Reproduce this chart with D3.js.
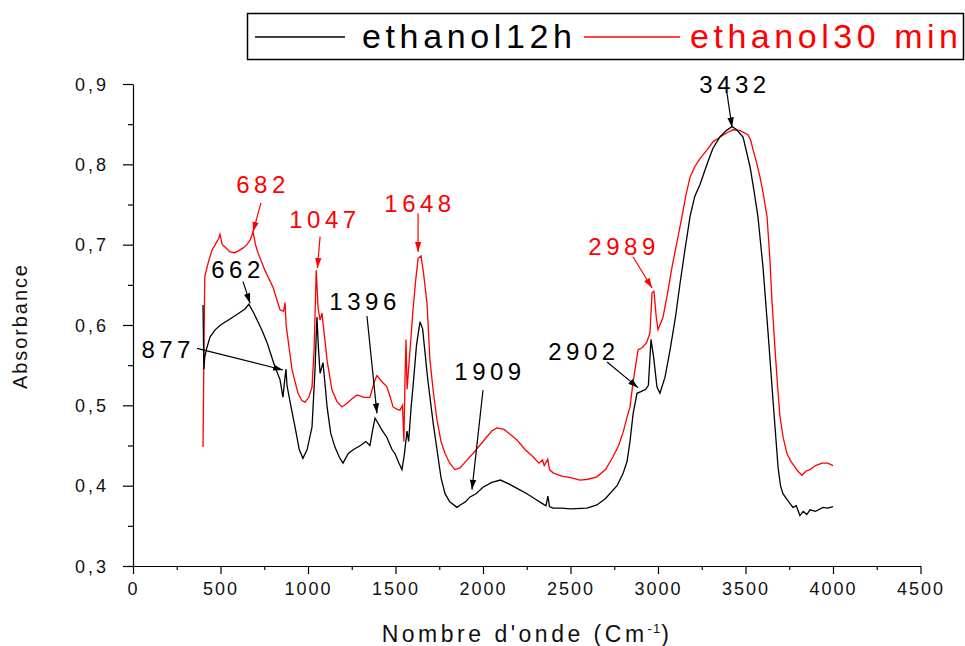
<!DOCTYPE html>
<html>
<head>
<meta charset="utf-8">
<script src="https://cdn.jsdelivr.net/npm/d3@7"></script>
<style>
  html, body { margin: 0; padding: 0; background: #fff; }
  svg { display: block; }
  text { font-family: "Liberation Sans", Arial, sans-serif; }
</style>
</head>
<body>
<svg id="chart" width="965" height="646"></svg>
<script>
// FTIR spectra: absorbance vs wavenumber (cm-1)
const seriesNames = ["ethanol12h", "ethanol30 min"];
const seriesColors = ["#000000", "#ff0000"];

const wn12h = [400,405,410,420,440,469,500,543,600,640,662,690,714,740,766,790,811,840,857,866,874,880,897,926,950,971,995,1023,1040,1051,1060,1069,1086,1100,1109,1130,1154,1180,1200,1230,1260,1300,1330,1354,1370,1383,1400,1420,1451,1480,1497,1520,1537,1550,1566,1575,1590,1600,1620,1640,1655,1669,1683,1697,1717,1737,1760,1783,1810,1851,1870,1900,1926,1960,2000,2050,2100,2150,2200,2251,2300,2337,2360,2371,2380,2400,2450,2500,2594,2651,2700,2766,2800,2823,2840,2858,2880,2902,2930,2945,2960,2975,2994,3011,3040,3069,3100,3126,3155,3183,3210,3240,3280,3314,3354,3390,3423,3450,3486,3526,3550,3571,3600,3629,3657,3686,3700,3714,3740,3771,3790,3811,3830,3850,3869,3900,3943,3970,4000];
const abs12h = [0.625,0.545,0.56,0.57,0.585,0.594,0.600,0.606,0.614,0.620,0.626,0.615,0.604,0.592,0.578,0.562,0.548,0.532,0.510,0.530,0.545,0.525,0.505,0.473,0.445,0.434,0.445,0.473,0.544,0.610,0.570,0.540,0.553,0.520,0.498,0.465,0.448,0.435,0.428,0.440,0.445,0.450,0.455,0.450,0.470,0.484,0.478,0.470,0.460,0.445,0.440,0.428,0.420,0.438,0.468,0.455,0.500,0.523,0.575,0.604,0.595,0.565,0.535,0.510,0.475,0.445,0.410,0.390,0.380,0.373,0.376,0.380,0.386,0.390,0.398,0.404,0.407,0.402,0.396,0.390,0.383,0.378,0.375,0.387,0.374,0.372,0.372,0.371,0.372,0.376,0.384,0.400,0.415,0.430,0.455,0.490,0.515,0.517,0.520,0.525,0.582,0.560,0.523,0.515,0.535,0.569,0.610,0.652,0.695,0.735,0.760,0.775,0.800,0.820,0.834,0.842,0.847,0.843,0.834,0.797,0.765,0.735,0.672,0.590,0.507,0.423,0.400,0.390,0.382,0.373,0.375,0.363,0.368,0.364,0.370,0.368,0.373,0.372,0.374];

const wn30 = [400,405,410,429,451,470,490,497,510,526,554,580,600,630,651,670,686,700,714,754,800,840,860,869,875,890,909,943,965,983,1005,1023,1035,1047,1058,1069,1080,1086,1100,1109,1137,1165,1194,1220,1250,1280,1320,1354,1380,1394,1420,1451,1470,1486,1510,1526,1540,1548,1555,1560,1566,1580,1600,1615,1629,1646,1660,1680,1697,1717,1737,1760,1783,1810,1840,1869,1900,1943,2000,2050,2080,2120,2160,2194,2240,2286,2320,2340,2350,2370,2380,2400,2450,2500,2554,2600,2651,2700,2743,2775,2800,2823,2840,2857,2886,2910,2935,2954,2966,2977,2990,3000,3029,3055,3080,3110,3137,3160,3183,3210,3240,3280,3314,3354,3400,3429,3470,3514,3530,3543,3560,3583,3600,3623,3640,3651,3669,3683,3697,3715,3737,3760,3783,3800,3823,3845,3869,3900,3937,3970,4000];
const abs30 = [0.448,0.56,0.66,0.677,0.693,0.700,0.708,0.713,0.700,0.697,0.691,0.690,0.692,0.696,0.700,0.706,0.716,0.700,0.690,0.668,0.647,0.619,0.617,0.628,0.600,0.575,0.544,0.515,0.506,0.504,0.510,0.523,0.570,0.668,0.620,0.606,0.615,0.602,0.575,0.556,0.519,0.505,0.498,0.502,0.508,0.513,0.510,0.510,0.530,0.537,0.530,0.523,0.510,0.498,0.495,0.494,0.500,0.455,0.540,0.582,0.520,0.560,0.619,0.655,0.683,0.686,0.665,0.627,0.556,0.515,0.482,0.455,0.440,0.428,0.420,0.422,0.430,0.440,0.455,0.468,0.472,0.470,0.463,0.457,0.445,0.436,0.428,0.432,0.425,0.433,0.420,0.416,0.412,0.410,0.407,0.408,0.411,0.420,0.436,0.450,0.466,0.485,0.498,0.528,0.569,0.572,0.578,0.590,0.640,0.642,0.610,0.594,0.610,0.640,0.672,0.705,0.735,0.762,0.784,0.797,0.807,0.818,0.828,0.834,0.840,0.843,0.842,0.837,0.830,0.818,0.805,0.784,0.765,0.735,0.680,0.631,0.569,0.525,0.486,0.460,0.440,0.430,0.423,0.418,0.413,0.418,0.420,0.425,0.428,0.428,0.425];

// Axis ticks
const xTicks = [0,500,1000,1500,2000,2500,3000,3500,4000,4500];
const xMinorTicks = [250,750,1250,1750,2250,2750,3250,3750,4250];
const yTicks = [0.3,0.4,0.5,0.6,0.7,0.8,0.9];
const yMinorTicks = [0.35,0.45,0.55,0.65,0.75,0.85];

// Peak annotations: label, series index, arrow tip (wn, A), arrow tail (wn, A), label anchor (wn, A)
const peakLabels = ["682","1047","1648","662","877","1396","1909","2902","2989","3432"];
const peakSeries = [1,1,1,0,0,0,0,0,1,0];
const peakTip  = [[686,0.716],[1054,0.671],[1629,0.691],[669,0.627],[857,0.544],[1394,0.490],[1937,0.395],[2886,0.522],[2966,0.646],[3423,0.846]];
const peakTail = [[731,0.752],[1069,0.710],[1629,0.739],[629,0.654],[366,0.571],[1337,0.611],[2000,0.519],[2709,0.554],[2857,0.685],[3394,0.889]];
const peakText = [[743,0.764],[1097,0.721],[1640,0.741],[600,0.658],[354,0.559],[1326,0.619],[2040,0.532],[2577,0.556],[2806,0.687],[3440,0.889]];
const peakAnchor = ["middle","middle","middle","middle","end","middle","middle","middle","middle","middle"];

const svg = d3.select("#chart");
const plot = { left: 133, right: 920.5, top: 84, bottom: 566 };

const x = d3.scaleLinear().domain([0, 4500]).range([plot.left, plot.right]);
const y = d3.scaleLinear().domain([0.3, 0.9]).range([plot.bottom, plot.top]);

const fmtY = v => d3.format(".1f")(v).replace(".", ",");

// Axes (major + minor ticks)
const gx = svg.append("g").attr("transform", `translate(0,${plot.bottom})`)
  .call(d3.axisBottom(x).tickValues(xTicks).tickSize(8).tickSizeOuter(0).tickPadding(8).tickFormat(d3.format("d")));
svg.append("g").attr("transform", `translate(0,${plot.bottom})`)
  .call(d3.axisBottom(x).tickValues(xMinorTicks).tickSize(4).tickSizeOuter(0).tickFormat(""))
  .select(".domain").remove();
const gy = svg.append("g").attr("transform", `translate(${plot.left},0)`)
  .call(d3.axisLeft(y).tickValues(yTicks).tickSize(10).tickSizeOuter(0).tickPadding(14).tickFormat(fmtY));
svg.append("g").attr("transform", `translate(${plot.left},0)`)
  .call(d3.axisLeft(y).tickValues(yMinorTicks).tickSize(5).tickSizeOuter(0).tickFormat(""))
  .select(".domain").remove();

svg.selectAll(".domain, .tick line").attr("stroke", "#000").attr("stroke-width", 1.2);
gx.selectAll(".tick text").attr("font-size", 18).attr("letter-spacing", 2).attr("fill", "#111")
  .attr("font-family", "'Liberation Sans', Arial, sans-serif");
gy.selectAll(".tick text").attr("font-size", 18).attr("letter-spacing", 3).attr("fill", "#111")
  .attr("font-family", "'Liberation Sans', Arial, sans-serif").attr("dy", "0.35em");

// Axis titles
svg.append("text")
  .attr("transform", `translate(27,${(plot.top + plot.bottom) / 2 + 2}) rotate(-90)`)
  .attr("text-anchor", "middle").attr("font-size", 20).attr("fill", "#111")
  .attr("textLength", 124).attr("lengthAdjust", "spacing")
  .text("Absorbance");

const xt = svg.append("text")
  .attr("x", 527).attr("y", 642).attr("text-anchor", "middle")
  .attr("font-size", 23).attr("fill", "#111").attr("letter-spacing", 3.5);
xt.append("tspan").text("Nombre d'onde (Cm");
xt.append("tspan").attr("font-size", 13).attr("letter-spacing", 1).attr("dy", -9).text("-1");
xt.append("tspan").attr("dy", 9).text(")");

// Spectra
const line = d3.line().x(d => x(d[0])).y(d => y(d[1]));
const seriesData = [
  d3.zip(wn12h, abs12h),
  d3.zip(wn30, abs30)
];
// draw red first so the black trace sits on top where they meet
[1, 0].forEach(i => {
  svg.append("path")
    .datum(seriesData[i])
    .attr("fill", "none")
    .attr("stroke", seriesColors[i])
    .attr("stroke-width", 1.3)
    .attr("stroke-linejoin", "miter")
    .attr("d", line);
});

// Arrowhead markers
const defs = svg.append("defs");
seriesColors.forEach((c, i) => {
  defs.append("marker")
    .attr("id", "arrow" + i)
    .attr("viewBox", "0 -4 10 8")
    .attr("refX", 10).attr("refY", 0)
    .attr("markerWidth", 10).attr("markerHeight", 8)
    .attr("markerUnits", "userSpaceOnUse")
    .attr("orient", "auto")
    .append("path").attr("d", "M0,-3.2L10,0L0,3.2Z").attr("fill", c);
});

// Peak annotations
peakLabels.forEach((lab, k) => {
  const s = peakSeries[k];
  svg.append("line")
    .attr("x1", x(peakTail[k][0])).attr("y1", y(peakTail[k][1]))
    .attr("x2", x(peakTip[k][0])).attr("y2", y(peakTip[k][1]))
    .attr("stroke", seriesColors[s]).attr("stroke-width", 1.2)
    .attr("marker-end", `url(#arrow${s})`);
  svg.append("text")
    .attr("x", x(peakText[k][0])).attr("y", y(peakText[k][1]))
    .attr("text-anchor", peakAnchor[k])
    .attr("font-size", 24).attr("letter-spacing", 4.5)
    .attr("fill", seriesColors[s])
    .text(lab);
});

// Legend
const lg = svg.append("g");
lg.append("rect").attr("x", 247.5).attr("y", 13.5).attr("width", 716).attr("height", 46)
  .attr("fill", "#fff").attr("stroke", "#000").attr("stroke-width", 1.5);
const legendItems = [
  { x1: 255, x2: 345, tx: 362, tw: 210 },
  { x1: 584, x2: 680, tx: 690, tw: 268 }
];
legendItems.forEach((it, i) => {
  lg.append("line").attr("x1", it.x1).attr("x2", it.x2).attr("y1", 37).attr("y2", 37)
    .attr("stroke", seriesColors[i]).attr("stroke-width", 1.5);
  lg.append("text").attr("x", it.tx).attr("y", 48)
    .attr("font-size", 34).attr("fill", seriesColors[i])
    .attr("textLength", it.tw).attr("lengthAdjust", "spacing")
    .text(seriesNames[i]);
});
</script>
</body>
</html>
